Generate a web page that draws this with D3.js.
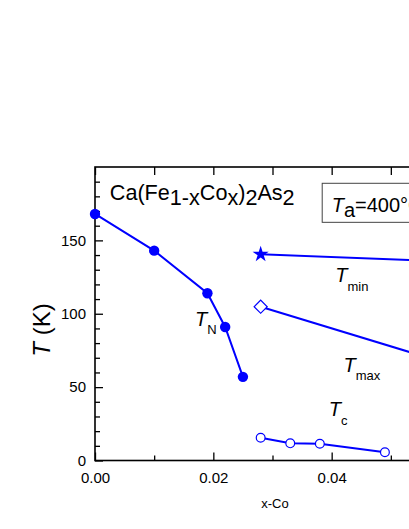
<!DOCTYPE html>
<html>
<head>
<meta charset="utf-8">
<script src="https://cdn.jsdelivr.net/npm/d3@7"></script>
<style>
  html, body { margin: 0; padding: 0; background: #fff; overflow: hidden; }
  text { font-family: "Liberation Sans", Arial, sans-serif; }
</style>
</head>
<body>
<div id="chart"></div>
<script>
"use strict";

// values (x = Co fraction, y = K)
const tnX = [0.0, 0.010, 0.019, 0.022, 0.025];
const tnY = [168, 143, 114, 91, 57];

const tminX = [0.028, 0.058];
const tminY = [140.5, 135.8];

const tmaxX = [0.028, 0.058];
const tmaxY = [104.8, 68];

const tcX = [0.028, 0.033, 0.038, 0.049];
const tcY = [15.5, 11.7, 11.4, 5.6];

const xMajor = [0, 0.02, 0.04];
const xMinor = [0.01, 0.03, 0.05];
const yMajor = [0, 50, 100, 150];
const yMinor = [10, 20, 30, 40, 60, 70, 80, 90, 110, 120, 130, 140, 160, 170, 180, 190];

const width = 409;
const height = 529;
const margin = { left: 95, top: 167, right: width - 450, bottom: height - 460.5 };

const svg = d3
  .select("#chart")
  .append("svg")
  .attr("width", width)
  .attr("height", height);

const x = d3.scaleLinear().domain([0, 0.06]).range([margin.left, width - margin.right]);
const y = d3.scaleLinear().domain([0, 200]).range([height - margin.bottom, margin.top]);

const blue = "#0000ff";
const zip = (xs, ys) => xs.map((v, i) => ({ x: v, y: ys[i] }));

// axes, ticks pointing inward
function styleAxis(g) {
  g.select(".domain").remove();
  g.selectAll(".tick line").attr("stroke", "#000").attr("stroke-width", 1.3);
  g.selectAll(".tick text").attr("fill", "#000").style("font-size", "15px");
}

svg.append("g")
  .attr("transform", `translate(0,${y(0)})`)
  .call(d3.axisBottom(x).tickValues(xMajor).tickSize(-8).tickPadding(12).tickFormat(d3.format(".2f")))
  .call(styleAxis);
svg.append("g")
  .attr("transform", `translate(0,${y(0)})`)
  .call(d3.axisBottom(x).tickValues(xMinor).tickSize(-5).tickFormat(""))
  .call(styleAxis);
svg.append("g")
  .attr("transform", `translate(0,${y(200)})`)
  .call(d3.axisTop(x).tickValues(xMajor.concat(xMinor)).tickSize(-8).tickFormat(""))
  .call(styleAxis);

svg.append("g")
  .attr("transform", `translate(${x(0)},0)`)
  .call(d3.axisLeft(y).tickValues(yMajor).tickSize(-8).tickPadding(9))
  .call(styleAxis);
svg.append("g")
  .attr("transform", `translate(${x(0)},0)`)
  .call(d3.axisLeft(y).tickValues(yMinor).tickSize(-5).tickFormat(""))
  .call(styleAxis);

// frame
svg.append("rect")
  .attr("x", x(0))
  .attr("y", y(200))
  .attr("width", x(0.06) - x(0))
  .attr("height", y(0) - y(200))
  .attr("fill", "none")
  .attr("stroke", "#000")
  .attr("stroke-width", 1.6);

// series lines
const line = d3.line().x((d) => x(d.x)).y((d) => y(d.y));
const series = [zip(tnX, tnY), zip(tminX, tminY), zip(tmaxX, tmaxY), zip(tcX, tcY)];
svg.append("g")
  .selectAll("path")
  .data(series)
  .join("path")
  .attr("d", line)
  .attr("fill", "none")
  .attr("stroke", blue)
  .attr("stroke-width", 2);

// markers
svg.append("g")
  .selectAll("circle")
  .data(series[0])
  .join("circle")
  .attr("cx", (d) => x(d.x))
  .attr("cy", (d) => y(d.y))
  .attr("r", 5.2)
  .attr("fill", blue);

svg.append("g")
  .selectAll("path")
  .data(series[1])
  .join("path")
  .attr("transform", (d) => `translate(${x(d.x)},${y(d.y)})`)
  .attr("d", d3.symbol(d3.symbolStar, 80))
  .attr("fill", blue);

svg.append("g")
  .selectAll("path")
  .data(series[2])
  .join("path")
  .attr("transform", (d) => `translate(${x(d.x)},${y(d.y)}) rotate(45)`)
  .attr("d", d3.symbol(d3.symbolSquare, 85))
  .attr("fill", "#fff")
  .attr("stroke", blue)
  .attr("stroke-width", 1.2);

svg.append("g")
  .selectAll("circle")
  .data(series[3])
  .join("circle")
  .attr("cx", (d) => x(d.x))
  .attr("cy", (d) => y(d.y))
  .attr("r", 4.4)
  .attr("fill", "#fff")
  .attr("stroke", blue)
  .attr("stroke-width", 1.2);

// formula
const formula = svg.append("text")
  .attr("x", x(0.0025))
  .attr("y", y(177.5))
  .style("font-size", "21.6px");
[["Ca(Fe", 0], ["1-x", 5], ["Co", -5], ["x", 5], [")", -5], ["2", 5], ["As", -5], ["2", 5]]
  .forEach(([t, dy]) => formula.append("tspan").attr("dy", dy).text(t));

// annealing box
svg.append("rect")
  .attr("x", x(0.0384))
  .attr("y", y(188.9))
  .attr("width", 120)
  .attr("height", y(162.3) - y(188.9))
  .attr("fill", "none")
  .attr("stroke", "#444")
  .attr("stroke-width", 1);
const boxText = svg.append("text")
  .attr("x", x(0.04))
  .attr("y", y(169.5))
  .style("font-size", "20px");
boxText.append("tspan").style("font-style", "italic").text("T");
boxText.append("tspan").attr("dy", 5).text("a");
boxText.append("tspan").attr("dy", -5).text("=400°C");

// curve labels
const labels = [
  { x: 0.0169, y: 91.7, sub: "N" },
  { x: 0.0406, y: 121.4, sub: "min" },
  { x: 0.0420, y: 60.5, sub: "max" },
  { x: 0.0395, y: 30.3, sub: "c" },
];
labels.forEach((d) => {
  const t = svg.append("text").attr("x", x(d.x)).attr("y", y(d.y)).style("font-size", "20px");
  t.append("tspan").style("font-style", "italic").text("T");
  t.append("tspan").attr("dy", 8.5).style("font-size", "13px").text(d.sub);
});

// axis titles
svg.append("text")
  .attr("x", 275)
  .attr("y", 508)
  .attr("text-anchor", "middle")
  .style("font-size", "13px")
  .text("x-Co");

const yTitle = svg.append("text")
  .attr("transform", "translate(50,330) rotate(-90)")
  .attr("text-anchor", "middle")
  .style("font-size", "24px");
yTitle.append("tspan").style("font-style", "italic").text("T");
yTitle.append("tspan").text(" (K)");
</script>
</body>
</html>
